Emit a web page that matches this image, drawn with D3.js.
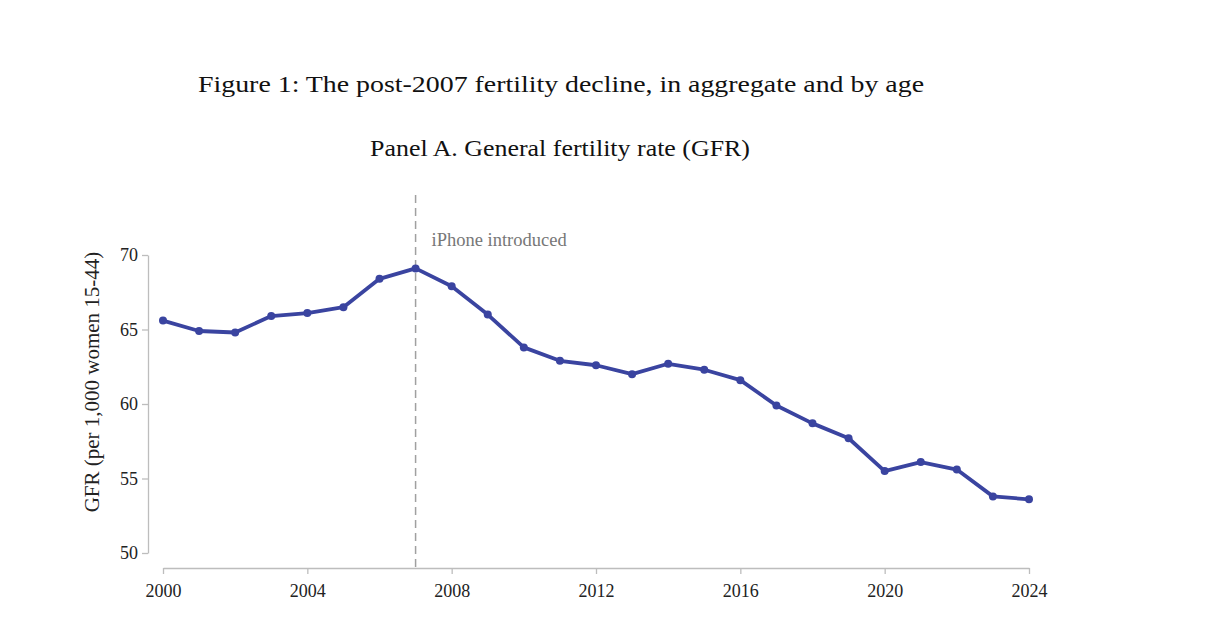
<!DOCTYPE html>
<html>
<head>
<meta charset="utf-8">
<script src="https://cdn.jsdelivr.net/npm/d3@7"></script>
<style>
  body { margin: 0; background: #fff; }
  svg { display: block; }
  .axis path, .axis line { stroke: #bdbdbd; stroke-width: 1.3px; }
  .axis text { font-family: "Liberation Serif", serif; font-size: 18px; fill: #222; }
</style>
</head>
<body>
<div id="chart"></div>
<script>
// GFR per 1,000 women aged 15-44
var years = d3.range(2000, 2025);
var gfr = [65.6, 64.9, 64.8, 65.9, 66.1, 66.5, 68.4, 69.1, 67.9, 66.0,
           63.8, 62.9, 62.6, 62.0, 62.7, 62.3, 61.6, 59.9, 58.7, 57.7,
           55.5, 56.1, 55.6, 53.8, 53.6];
var xTicks = [2000, 2004, 2008, 2012, 2016, 2020, 2024];
var yTicks = [50, 55, 60, 65, 70];
var eventYear = 2007;
var eventLabel = "iPhone introduced";

var width = 1206, height = 634;

var svg = d3.select("#chart").append("svg")
    .attr("width", width)
    .attr("height", height);

var x = d3.scaleLinear().domain([2000, 2024]).range([163, 1029]);
var y = d3.scaleLinear().domain([50, 70]).range([553, 255]);

// titles (stretched a bit to mimic the wider LaTeX face)
svg.append("text")
    .attr("x", 561).attr("y", 92)
    .attr("text-anchor", "middle")
    .attr("textLength", 726).attr("lengthAdjust", "spacingAndGlyphs")
    .style("font-family", "'Liberation Serif', serif")
    .style("font-size", "24px")
    .style("fill", "#111")
    .text("Figure 1: The post-2007 fertility decline, in aggregate and by age");

svg.append("text")
    .attr("x", 560).attr("y", 156)
    .attr("text-anchor", "middle")
    .attr("textLength", 380).attr("lengthAdjust", "spacingAndGlyphs")
    .style("font-family", "'Liberation Serif', serif")
    .style("font-size", "23px")
    .style("fill", "#111")
    .text("Panel A. General fertility rate (GFR)");

// axes
svg.append("g")
    .attr("class", "axis axis--y")
    .attr("transform", "translate(148,0)")
    .call(d3.axisLeft(y).tickValues(yTicks).tickSize(6).tickSizeOuter(0).tickPadding(4));

svg.append("g")
    .attr("class", "axis axis--x")
    .attr("transform", "translate(0,568)")
    .call(d3.axisBottom(x).tickValues(xTicks).tickFormat(d3.format("d"))
        .tickSize(6).tickSizeOuter(0).tickPadding(10));

svg.append("text")
    .attr("transform", "translate(99,382) rotate(-90)")
    .attr("text-anchor", "middle")
    .style("font-family", "'Liberation Serif', serif")
    .style("font-size", "21px")
    .style("fill", "#222")
    .text("GFR (per 1,000 women 15-44)");

// event marker
svg.append("line")
    .attr("x1", x(eventYear)).attr("x2", x(eventYear))
    .attr("y1", 195).attr("y2", 568)
    .attr("stroke", "#a0a0a0")
    .attr("stroke-width", 1.5)
    .attr("stroke-dasharray", "8,5");

svg.append("text")
    .attr("x", x(eventYear) + 16).attr("y", 246)
    .style("font-family", "'Liberation Serif', serif")
    .style("font-size", "18.5px")
    .style("fill", "#777")
    .text(eventLabel);

// series
var data = years.map(function(d, i) { return {year: d, value: gfr[i]}; });

var line = d3.line()
    .x(function(d) { return x(d.year); })
    .y(function(d) { return y(d.value); });

svg.append("path")
    .datum(data)
    .attr("fill", "none")
    .attr("stroke", "#3a44a0")
    .attr("stroke-width", 3.8)
    .attr("stroke-linejoin", "round")
    .attr("d", line);

svg.selectAll(".dot")
    .data(data)
    .enter().append("circle")
    .attr("class", "dot")
    .attr("cx", function(d) { return x(d.year); })
    .attr("cy", function(d) { return y(d.value); })
    .attr("r", 4)
    .attr("fill", "#3a44a0");
</script>
</body>
</html>
